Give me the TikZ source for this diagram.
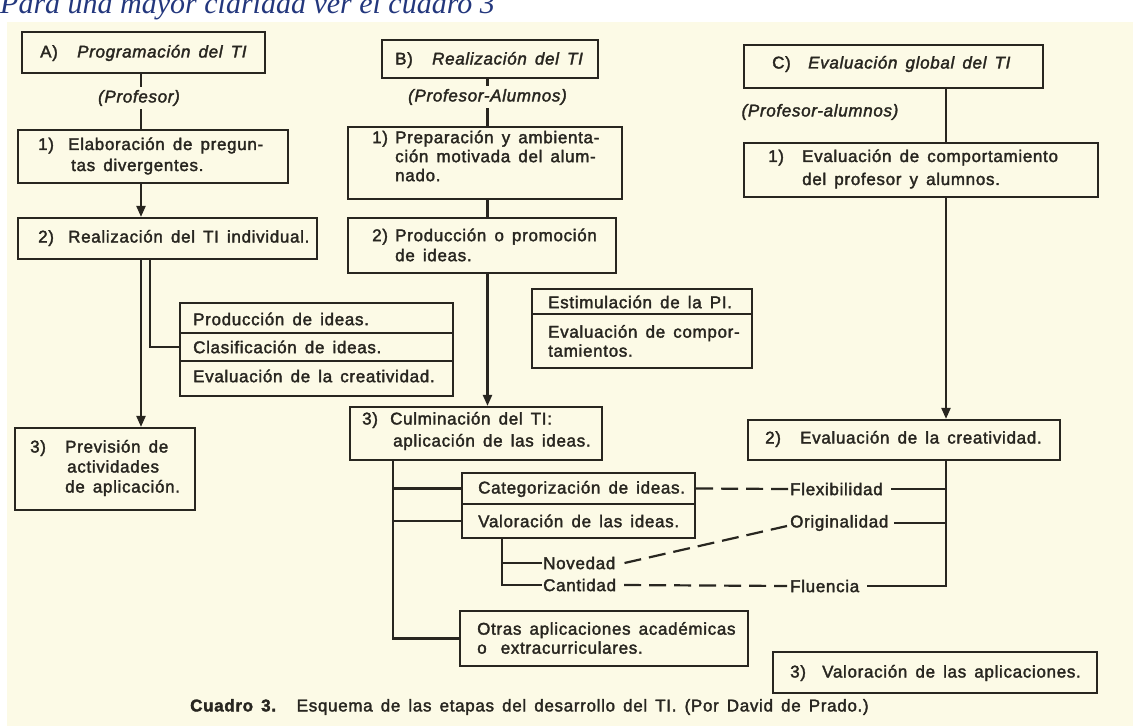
\documentclass[tikz,border=0pt]{standalone}
\usepackage{fontspec}
\setmainfont{Liberation Sans}[LetterSpace=4,WordSpace=1.5,FakeBold=2]
\newfontfamily\topfont{Liberation Serif}
\usetikzlibrary{arrows.meta}
\definecolor{cream}{RGB}{252,250,230}
\definecolor{ink}{RGB}{40,38,32}
\definecolor{navy}{RGB}{35,55,125}
\begin{document}
\begin{tikzpicture}[x=1pt,y=-1pt,
  box/.style={draw=ink, line width=2.2pt, inner sep=0pt, rectangle},
  txt/.style={text=ink, inner sep=0pt, anchor=west, align=left, font=\fontsize{17}{20}\selectfont},
  itx/.style={txt, anchor=center, inner ysep=3pt, font=\itshape\fontsize{17}{20}\selectfont},
  conn/.style={draw=ink, line width=2.2pt},
  arr/.style={conn, -{Triangle[length=11pt,width=9pt]}},
  dsh/.style={conn, dash pattern=on 17pt off 8pt}]
\fill[white] (0,0) rectangle (1133,726);
\fill[cream] (7,22) rectangle (1133,726);
\useasboundingbox (0,0) rectangle (1133,726);
\node[anchor=base west, inner sep=0pt, text=navy, font=\topfont\itshape\fontsize{30}{32}\selectfont] (top) at (0,13) {Para una mayor claridad ver el cuadro 3};
% column coordinates
\coordinate (colA) at (141,0);
\coordinate (colAb) at (150,0);
\coordinate (colB) at (487.5,0);
\coordinate (colBb) at (393,0);
\coordinate (colV) at (502,0);
\coordinate (colC) at (946,0);
% ---------- column A ----------
\node[box, minimum width=243pt, minimum height=41pt] (A) at (143.5,52.5) {};
\node[txt] (At) at (40,53) {\makebox[37pt][l]{A)}\textit{Programación del TI}};
\node[itx] (Ap) at (139,98) {(Profesor)};
\node[box, minimum width=270pt, minimum height=53pt] (A1) at (153,156.5) {};
\node[txt, font=\fontsize{17}{21}\selectfont] (A1t) at (38,156) {\makebox[30pt][l]{1)}Elaboración de pregun-\\\hspace*{33pt}tas divergentes.};
\node[box, minimum width=299pt, minimum height=41pt] (A2) at (167.5,238.5) {};
\node[txt] (A2t) at (38,238) {\makebox[30pt][l]{2)}Realización del TI individual.};
\node[box, minimum width=273pt, minimum height=30pt] (Apr) at (316.5,318) {};
\node[box, minimum width=273pt, minimum height=28pt] (Acl) at (316.5,347) {};
\node[box, minimum width=273pt, minimum height=35pt] (Aev) at (316.5,378.5) {};
\node[txt] (Aprt) at (193,319) {Producción de ideas.};
\node[txt] (Aclt) at (193,347) {Clasificación de ideas.};
\node[txt] (Aevt) at (193,376) {Evaluación de la creatividad.};
\node[box, minimum width=180pt, minimum height=82pt] (A3) at (105,469) {};
\node[txt] (A3t) at (30,468) {\makebox[35pt][l]{3)}Previsión de\\\hspace*{37pt}actividades\\\hspace*{35pt}de aplicación.};
\draw[conn] (A.south -| colA) -- (Ap.north -| colA);
\draw[conn] (Ap.south -| colA) -- (A1.north -| colA);
\draw[arr] (A1.south -| colA) -- (A2.north -| colA);
\draw[arr] (A2.south -| colA) -- (A3.north -| colA);
\draw[conn] (A2.south -| colAb) |- (Acl.west);
% ---------- column B ----------
\node[box, minimum width=216pt, minimum height=38pt] (B) at (490,59) {};
\node[txt] (Bt) at (395,60) {\makebox[37pt][l]{B)}\textit{Realización del TI}};
\node[itx] (Bp) at (487.5,97) {(Profesor-Alumnos)};
\node[box, minimum width=274pt, minimum height=72pt] (B1) at (485,163) {};
\node[txt, font=\fontsize{17}{19}\selectfont] (B1t) at (372,156) {\makebox[23pt][l]{1)}Preparación y ambienta-\\\hspace*{23pt}ción motivada del alum-\\\hspace*{23pt}nado.};
\node[box, minimum width=268pt, minimum height=55pt] (B2) at (482,245.5) {};
\node[txt] (B2t) at (372,245) {\makebox[23pt][l]{2)}Producción o promoción\\\hspace*{23pt}de ideas.};
\node[box, minimum width=220pt, minimum height=25pt] (Bes) at (642,301.5) {};
\node[box, minimum width=220pt, minimum height=54pt] (Bev) at (642,341) {};
\node[txt] (Best) at (548,302) {Estimulación de la PI.};
\node[txt, font=\fontsize{17}{19}\selectfont] (Bevt) at (548,341) {Evaluación de compor-\\tamientos.};
\node[box, minimum width=252pt, minimum height=53pt] (B3) at (476,433.5) {};
\node[txt, font=\fontsize{17}{22}\selectfont] (B3t) at (362,431) {\makebox[28pt][l]{3)}Culminación del TI:\\\hspace*{31pt}aplicación de las ideas.};
\node[box, minimum width=233pt, minimum height=31pt] (Cat) at (578.5,488.5) {};
\node[box, minimum width=233pt, minimum height=34pt] (Val) at (578.5,521) {};
\node[txt] (Catt) at (478,489) {Categorización de ideas.};
\node[txt] (Valt) at (478,521) {Valoración de las ideas.};
\node[txt, inner xsep=1pt] (Nov) at (542,563) {Novedad};
\node[txt, inner xsep=1pt] (Can) at (542,585) {Cantidad};
\node[box, minimum width=288pt, minimum height=55pt] (Ot) at (604,638.5) {};
\node[txt, font=\fontsize{17}{19}\selectfont] (Ott) at (477,638) {Otras aplicaciones académicas\\o\hspace{6pt} extracurriculares.};
\draw[conn] (B.south -| colB) -- (Bp.north -| colB);
\draw[conn] (Bp.south -| colB) -- (B1.north -| colB);
\draw[conn] (B1.south -| colB) -- (B2.north -| colB);
\draw[arr] (B2.south -| colB) -- (B3.north -| colB);
\draw[conn] (B3.south -| colBb) |- (Ot.west);
\draw[conn] (colBb |- Cat.west) -- (Cat.west);
\draw[conn] (colBb |- Val.west) -- (Val.west);
\draw[conn] (Val.south -| colV) |- (Can.west);
\draw[conn] (colV |- Nov.west) -- (Nov.west);
% ---------- column C ----------
\node[box, minimum width=299pt, minimum height=43pt] (C) at (893.5,66.5) {};
\node[txt] (Ct) at (772,64) {\makebox[36pt][l]{C)}\textit{Evaluación global del TI}};
\node[itx] (Cp) at (820,112) {(Profesor-alumnos)};
\node[box, minimum width=354pt, minimum height=54pt] (C1) at (921,170) {};
\node[txt, font=\fontsize{17}{23}\selectfont] (C1t) at (768,169) {\makebox[34pt][l]{1)}Evaluación de comportamiento\\\hspace*{34pt}del profesor y alumnos.};
\node[box, minimum width=312pt, minimum height=40pt] (C2) at (904,440) {};
\node[txt] (C2t) at (765,439) {\makebox[35pt][l]{2)}Evaluación de la creatividad.};
\node[txt] (Flex) at (790,489) {Flexibilidad};
\node[txt] (Ori) at (790,523) {Originalidad};
\node[txt] (Flu) at (790,586) {Fluencia};
\node[box, minimum width=324pt, minimum height=41pt] (C3) at (935,672.5) {};
\node[txt] (C3t) at (790,673) {\makebox[32pt][l]{3)}Valoración de las aplicaciones.};
\draw[conn] (C.south -| colC) -- (C1.north -| colC);
\draw[arr] (C1.south -| colC) -- (C2.north -| colC);
\draw[conn] (C2.south -| colC) |- ([xshift=8pt]Flu.east);
\draw[conn] (colC |- Flex.east) -- ([xshift=8pt]Flex.east);
\draw[conn] (colC |- Ori.east) -- ([xshift=5pt]Ori.east);
% dashed relations
\draw[dsh] (Cat.east) -- ([xshift=-2pt]Flex.west);
\draw[dsh] ([xshift=8pt]Nov.east) -- ([xshift=-3pt,yshift=-3pt]Ori.west);
\draw[dsh] ([xshift=7pt]Can.east) -- ([xshift=-3pt]Flu.west);
% caption
\node[txt] (cap) at (190,707) {\textbf{Cuadro 3.}\hspace{20pt}Esquema de las etapas del desarrollo del TI. (Por David de Prado.)};
\end{tikzpicture}
\end{document}
